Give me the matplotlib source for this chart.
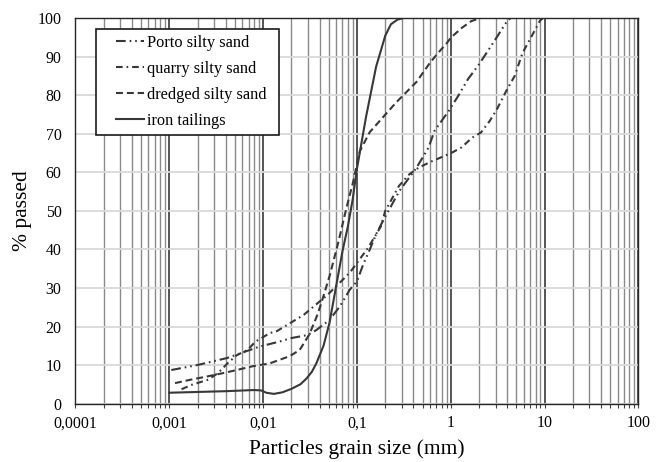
import matplotlib
matplotlib.use("Agg")
import matplotlib.pyplot as plt
from matplotlib.ticker import FixedLocator, FixedFormatter, NullFormatter
from matplotlib.legend_handler import HandlerLine2D

plt.rcParams['font.family'] = ['Liberation Serif', 'DejaVu Serif']
plt.rcParams['lines.scale_dashes'] = False

# ---- data ----
porto_x = [0.00105, 0.002, 0.0041, 0.0092, 0.015, 0.02, 0.03, 0.037, 0.051, 0.066, 0.084,
           0.1, 0.116, 0.137, 0.16, 0.19, 0.283, 0.43, 0.58, 0.67, 0.95, 1.2, 1.52, 2.0,
           2.78, 4.0, 4.3]
porto_y = [8.7, 10.0, 11.8, 14.8, 16.1, 17.0, 17.8, 19.1, 21.7, 25.3, 29.6,
           31.7, 36.0, 40.0, 44.0, 47.5, 55.2, 61.2, 66.5, 70.8, 76.0, 79.9, 84.2, 88.1,
           93.4, 99.4, 100.0]

quarry_x = [0.00135, 0.0017, 0.0026, 0.0033, 0.0042, 0.0052, 0.0069, 0.0082, 0.0118, 0.014,
            0.027, 0.049, 0.084, 0.131, 0.18, 0.2, 0.25, 0.28, 0.36, 0.45, 0.6, 0.8, 1.0,
            1.3, 1.68, 2.1, 2.6, 3.1, 3.9, 4.8, 5.8, 7.5, 8.9, 9.5]
quarry_y = [3.7, 4.8, 6.2, 7.9, 10.5, 12.5, 14.0, 16.0, 18.3, 18.8,
            23.0, 28.3, 34.0, 40.4, 46.0, 50.0, 54.3, 56.5, 59.5, 61.2, 62.7, 64.0, 65.0,
            66.5, 69.0, 70.4, 73.4, 76.4, 81.2, 85.1, 91.0, 96.0, 99.4, 100.0]

dredged_x = [0.00115, 0.0017, 0.0025, 0.0041, 0.0078, 0.0117, 0.0144, 0.0192, 0.0245, 0.031,
             0.037, 0.0416, 0.0513, 0.0627, 0.0776, 0.0909, 0.107, 0.137, 0.264, 0.43,
             0.6, 0.76, 0.9, 1.0, 1.3, 1.65, 2.0]
dredged_y = [5.3, 6.2, 7.0, 8.1, 9.7, 10.4, 11.2, 12.3, 13.9, 17.9,
             22.4, 26.0, 33.3, 41.5, 51.0, 57.5, 65.5, 70.5, 78.3, 83.5,
             88.5, 91.5, 93.5, 95.0, 97.5, 99.3, 100.0]

iron_x = [0.001, 0.002, 0.004, 0.008, 0.0095, 0.0108, 0.013, 0.016, 0.02, 0.025, 0.029,
          0.033, 0.037, 0.044, 0.051, 0.06, 0.07, 0.08, 0.09, 0.1, 0.125, 0.16, 0.2,
          0.23, 0.27, 0.3]
iron_y = [2.8, 3.0, 3.2, 3.5, 3.4, 2.8, 2.5, 2.9, 3.8, 5.0, 6.5,
          8.2, 10.5, 15.0, 21.0, 30.5, 39.5, 46.0, 53.0, 61.0, 74.5, 87.5, 95.5,
          98.5, 99.7, 100.0]

labels = ["Porto silty sand", "quarry silty sand", "dredged silty sand", "iron tailings"]
xtick_vals = [0.0001, 0.001, 0.01, 0.1, 1, 10, 100]
xtick_labels = ["0,0001", "0,001", "0,01", "0,1", "1", "10", "100"]
ytick_vals = [0, 10, 20, 30, 40, 50, 60, 70, 80, 90, 100]

# ---- figure ----
fig = plt.figure(figsize=(6.65, 4.62), dpi=100)
ax = fig.add_axes([0.1135, 0.1266, 0.8466, 0.8334])

lc = '#383838'
lw = 1.5
ax.plot(porto_x, porto_y, color=lc, lw=lw, dashes=(7.0, 2.8, 1.2, 2.8, 1.2, 2.8), label=labels[0])
ax.plot(quarry_x, quarry_y, color=lc, lw=lw, dashes=(4.8, 2.8, 1.2, 2.8), label=labels[1])
ax.plot(dredged_x, dredged_y, color=lc, lw=lw, dashes=(5.0, 2.8), label=labels[2])
ax.plot(iron_x, iron_y, color=lc, lw=lw, label=labels[3])

ax.set_xscale('log')
ax.set_xlim(1e-4, 100)
ax.set_ylim(0, 100)

minor = [m * d for d in [1e-4, 1e-3, 1e-2, 1e-1, 1, 10] for m in range(2, 10)]
ax.xaxis.set_major_locator(FixedLocator(xtick_vals))
ax.xaxis.set_major_formatter(FixedFormatter(xtick_labels))
ax.xaxis.set_minor_locator(FixedLocator(minor))
ax.xaxis.set_minor_formatter(NullFormatter())
ax.yaxis.set_major_locator(FixedLocator(ytick_vals))
ax.yaxis.set_minor_locator(FixedLocator([]))

ax.set_axisbelow(True)
ax.grid(which='major', axis='y', color='#d9d9d9', lw=1.3)
ax.grid(which='minor', axis='x', color='#8a8a8a', lw=1.0)
ax.grid(which='major', axis='x', color='#262626', lw=1.1)

ax.tick_params(axis='x', which='both', direction='out', length=3, width=0.8,
               color='#404040', labelsize=11.4, pad=5.5)
ax.tick_params(axis='y', which='both', length=0, labelsize=11.4, pad=10)
for s in ax.spines.values():
    s.set_color('#262626')
    s.set_linewidth(1.0)

ax.set_xlabel("Particles grain size (mm)", fontsize=15.5, labelpad=5.5)
ax.set_ylabel("% passed", fontsize=15.5, labelpad=4)


class PadHandler(HandlerLine2D):
    def __init__(self, pad_px, **kw):
        super().__init__(**kw)
        self.pad_px = pad_px

    def create_artists(self, legend, orig_handle, xdescent, ydescent, width, height, fontsize, trans):
        pad = self.pad_px
        return super().create_artists(legend, orig_handle, xdescent - pad, ydescent,
                                      width - pad, height, fontsize, trans)


handles, labs = ax.get_legend_handles_labels()
hm = {h: PadHandler(pad_px=10) for h in handles}
leg = ax.legend(handles, labs, loc='upper left',
                bbox_to_anchor=(0.0364, 0.7026, 0.3251, 0.2704), mode='expand',
                borderaxespad=0, fontsize=11.8, frameon=True, fancybox=False,
                edgecolor='#1a1a1a', framealpha=1, borderpad=0.38, labelspacing=0.6,
                handlelength=2.55, handletextpad=0.2, handler_map=hm)
leg.get_frame().set_linewidth(1.2)

fig.savefig("out.png", dpi=100)
